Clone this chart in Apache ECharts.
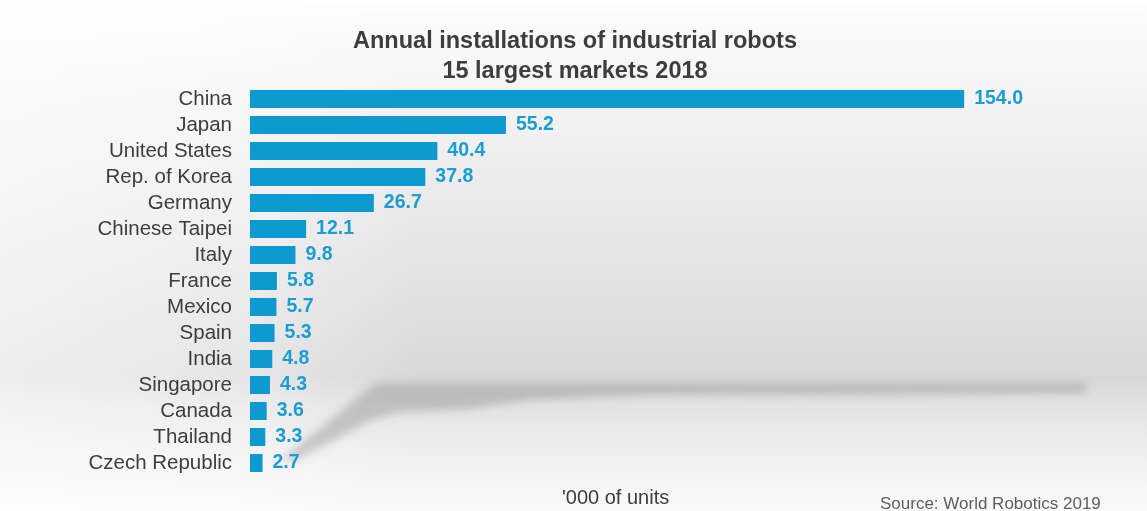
<!DOCTYPE html>
<html>
<head>
<meta charset="utf-8">
<script src="https://cdn.jsdelivr.net/npm/echarts@6/dist/echarts.min.js"></script>
<style>
  html, body { margin: 0; padding: 0; background: #ffffff; }
  #chart { width: 1147px; height: 511px; }
</style>
</head>
<body>
<div id="chart"></div>
<script>
// Annual installations of industrial robots, 15 largest markets 2018 ('000 of units)
const countries = [
  'China', 'Japan', 'United States', 'Rep. of Korea', 'Germany',
  'Chinese Taipei', 'Italy', 'France', 'Mexico', 'Spain',
  'India', 'Singapore', 'Canada', 'Thailand', 'Czech Republic'
];
const installations = [
  154.0, 55.2, 40.4, 37.8, 26.7,
  12.1, 9.8, 5.8, 5.7, 5.3,
  4.8, 4.3, 3.6, 3.3, 2.7
];
const titleLines = ['Annual installations of industrial robots', '15 largest markets 2018'];
const unitLabel = "'000 of units";
const sourceLabel = 'Source: World Robotics 2019';

const FONT = '"Liberation Sans", Arial, sans-serif';
const TEXT = '#3d3d3d';
const BAR = '#0e99d1';
const VALUE = '#1b9cd3';

const chart = echarts.init(document.getElementById('chart'), null, { renderer: 'canvas' });

// soft floor shadow behind the lower bars; drawn offscreen so only its blurred shadow shows
const OFF = 3000;
const shadowPts = [
  [380, 383], [1085, 383], [1088, 388], [1085, 393], [640, 395], [530, 400],
  [470, 409], [400, 412], [372, 420], [292, 462], [283, 458], [372, 386]
].map(p => [p[0] - OFF, p[1]]);

chart.setOption({
  backgroundColor: {
    type: 'linear', x: 0, y: 0, x2: 0, y2: 1,
    colorStops: [
      { offset: 0.00, color: '#ffffff' },
      { offset: 0.03, color: '#fbfbfb' },
      { offset: 0.25, color: '#f1f1f1' },
      { offset: 0.55, color: '#e2e2e2' },
      { offset: 0.74, color: '#d8d8d8' },
      { offset: 0.80, color: '#e4e4e4' },
      { offset: 0.90, color: '#f0f0f0' },
      { offset: 1.00, color: '#fafafa' }
    ]
  },
  animation: false,
  title: {
    text: titleLines.join('\n'),
    left: 570,
    top: 22,
    textAlign: 'center',
    textStyle: {
      fontFamily: FONT, fontSize: 23.5, fontWeight: 'bold',
      color: TEXT, lineHeight: 30
    }
  },
  graphic: [
    {
      type: 'rect', silent: true, z: -10,
      shape: { x: 0, y: 0, width: 420, height: 511 },
      style: {
        fill: {
          type: 'linear', x: 0, y: 0, x2: 1, y2: 0,
          colorStops: [
            { offset: 0, color: 'rgba(255,255,255,0.55)' },
            { offset: 0.6, color: 'rgba(255,255,255,0.35)' },
            { offset: 1, color: 'rgba(255,255,255,0)' }
          ]
        }
      }
    },
    {
      type: 'polygon', silent: true, z: -5,
      shape: { points: shadowPts },
      style: {
        fill: '#000',
        shadowColor: 'rgba(130,130,130,0.38)',
        shadowBlur: 8,
        shadowOffsetX: OFF,
        shadowOffsetY: 0
      }
    },
    {
      type: 'text', left: 562, top: 488, silent: true,
      style: { text: unitLabel, fontFamily: FONT, fontSize: 20, fill: TEXT }
    },
    {
      type: 'text', left: 880, top: 496, silent: true,
      style: { text: sourceLabel, fontFamily: FONT, fontSize: 17, fill: '#5e5e5e' }
    }
  ],
  grid: { left: 250, top: 86, width: 742, height: 390 },
  xAxis: {
    type: 'value', min: 0, max: 160, show: false
  },
  yAxis: {
    type: 'category',
    data: countries,
    inverse: true,
    axisLine: { show: false },
    axisTick: { show: false },
    splitLine: { show: false },
    axisLabel: {
      interval: 0,
      margin: 18, fontFamily: FONT, fontSize: 20.5, color: TEXT
    }
  },
  series: [{
    type: 'bar',
    data: installations,
    barWidth: 18,
    itemStyle: { color: BAR },
    label: {
      show: true,
      position: 'right',
      distance: 10,
      formatter: p => p.value.toFixed(1),
      fontFamily: FONT, fontSize: 19.5, fontWeight: 'bold', color: VALUE
    }
  }]
});
</script>
</body>
</html>
